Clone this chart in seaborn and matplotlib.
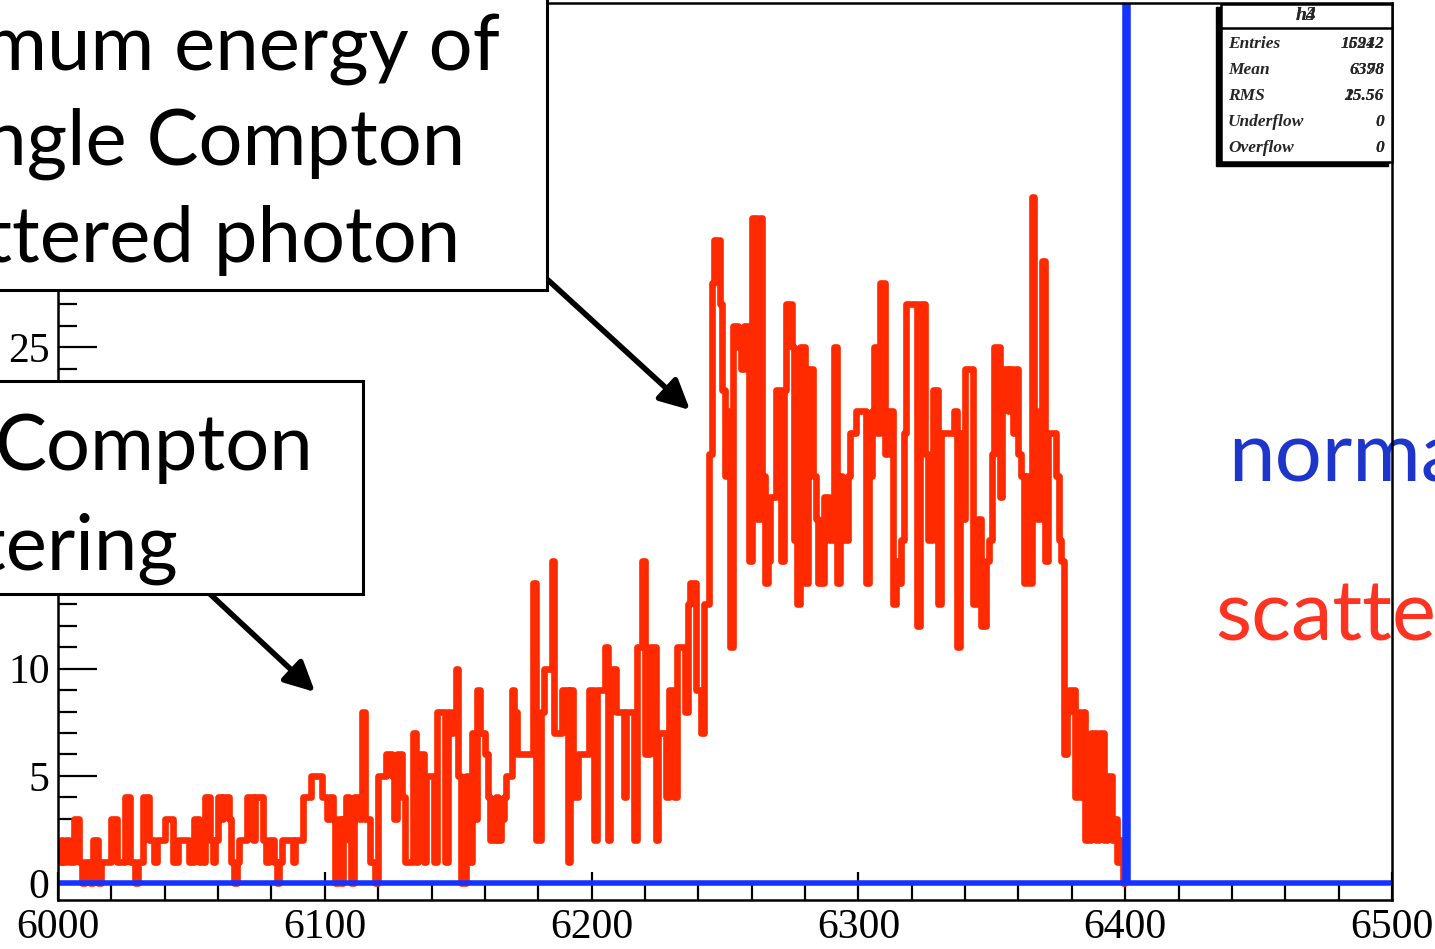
import numpy as np
import pandas as pd
import matplotlib
matplotlib.use("Agg")
import matplotlib.pyplot as plt
from matplotlib.patches import Rectangle
from matplotlib.ticker import MultipleLocator
import seaborn as sns

# counts per 1-unit bin, 6000..6400 (scattered photons, red)
scattered = [
    1, 2, 1, 2, 1, 1, 3, 3, 1, 0,
    1, 1, 0, 2, 2, 0, 1, 1, 1, 1,
    3, 3, 1, 1, 1, 4, 4, 1, 1, 0,
    1, 1, 4, 4, 2, 2, 1, 2, 2, 2,
    3, 3, 3, 1, 1, 2, 2, 2, 2, 1,
    1, 3, 3, 1, 1, 4, 4, 2, 1, 2,
    4, 3, 4, 4, 3, 1, 0, 1, 2, 2,
    2, 4, 4, 2, 4, 4, 4, 2, 1, 2,
    2, 1, 0, 1, 2, 2, 2, 2, 1, 2,
    2, 2, 4, 4, 4, 5, 5, 5, 5, 4,
    4, 3, 4, 3, 0, 3, 0, 3, 4, 2,
    0, 4, 4, 3, 8, 3, 3, 1, 1, 0,
    5, 5, 5, 6, 6, 5, 3, 6, 6, 4,
    1, 1, 1, 7, 1, 6, 6, 1, 5, 5,
    5, 1, 8, 8, 8, 1, 8, 7, 8, 10,
    5, 0, 0, 5, 1, 7, 3, 9, 7, 7,
    6, 4, 2, 2, 4, 2, 3, 4, 5, 5,
    9, 8, 6, 6, 6, 6, 6, 6, 14, 2,
    2, 8, 10, 10, 10, 15, 7, 7, 7, 9,
    9, 1, 9, 4, 4, 6, 6, 6, 6, 9,
    9, 2, 9, 9, 9, 11, 2, 10, 10, 8,
    8, 8, 4, 8, 8, 8, 2, 11, 11, 15,
    6, 6, 11, 11, 2, 7, 7, 7, 4, 9,
    9, 4, 11, 11, 11, 8, 13, 14, 14, 9,
    9, 7, 13, 13, 20, 28, 30, 30, 27, 23,
    19, 22, 11, 26, 26, 25, 24, 26, 26, 15,
    31, 31, 17, 31, 19, 14, 15, 18, 18, 23,
    23, 15, 23, 27, 27, 25, 16, 13, 25, 25,
    14, 24, 24, 19, 17, 14, 14, 18, 18, 16,
    16, 25, 14, 19, 16, 16, 19, 21, 21, 22,
    22, 22, 22, 14, 19, 22, 25, 21, 28, 28,
    20, 22, 22, 13, 15, 14, 16, 21, 27, 27,
    27, 27, 12, 27, 27, 20, 16, 16, 23, 23,
    13, 21, 21, 21, 21, 21, 22, 11, 21, 17,
    24, 24, 24, 13, 13, 17, 12, 12, 15, 16,
    20, 25, 25, 18, 24, 24, 22, 24, 21, 24,
    20, 19, 14, 19, 14, 32, 22, 17, 22, 29,
    15, 21, 21, 21, 19, 16, 15, 6, 8, 9,
    9, 4, 8, 4, 8, 2, 2, 7, 7, 2,
    7, 7, 2, 5, 5, 2, 3, 1, 2, 0,
]
scattered_start = 6000

# normal (unscattered) photons, blue: all in the 6400 bin, off scale
normal_start = 6000
normal_stop = 6500
normal_peak_energy = 6400
normal_peak_count = 15942

x_ticks = [6000, 6100, 6200, 6300, 6400, 6500]
y_ticks = [0, 5, 10, 15, 20, 25, 30, 35, 40]

stats_rows = ["Entries", "Mean", "RMS", "Underflow", "Overflow"]
stats_vals_a = ["15942", "6378", "15.56", "0", "0"]
stats_vals_b = ["16212", "6398", "25.56", "0", "0"]

RED = "#ff2a00"
BLUE = "#1433ff"

sns.set_theme(style="white")
plt.rcParams["font.family"] = ["Liberation Serif", "DejaVu Serif"]

W, H = 1435, 949
fig = plt.figure(figsize=(W / 100, H / 100), dpi=100)
ax = fig.add_axes([58 / W, 1 - 900 / H, (1392 - 58) / W, (900 - 3) / H])


def fx(x):
    return x / W


def fy(y):
    return 1 - y / H


sc_edges = list(range(scattered_start, scattered_start + len(scattered) + 1))
df_sc = pd.DataFrame({"energy": np.array(sc_edges[:-1]) + 0.5, "counts": scattered})

nm_edges = list(range(normal_start, normal_stop + 1))
nm_counts = np.zeros(len(nm_edges) - 1)
nm_counts[normal_peak_energy - normal_start] = normal_peak_count
df_nm = pd.DataFrame({"energy": np.array(nm_edges[:-1]) + 0.5, "counts": nm_counts})

sns.histplot(data=df_sc, x="energy", weights="counts", bins=sc_edges,
             element="step", fill=False, color=RED, linewidth=4.8, ax=ax)
sns.histplot(data=df_nm, x="energy", weights="counts", bins=nm_edges,
             element="step", fill=False, color=BLUE, linewidth=4.0, ax=ax)

ax.set_xlim(6000, 6500)
ax.set_ylim(-0.79, 41.05)
ax.set_xlabel("")
ax.set_ylabel("")
ax.set_xticks(x_ticks)
ax.set_yticks(y_ticks)
ax.xaxis.set_minor_locator(MultipleLocator(20))
ax.yaxis.set_minor_locator(MultipleLocator(1))
ax.tick_params(axis="both", which="both", direction="in", colors="black",
               width=1.6, labelsize=30, left=True, bottom=True)
ax.tick_params(axis="x", which="major", length=20, pad=6)
ax.tick_params(axis="x", which="minor", length=11)
ax.tick_params(axis="y", which="major", length=28, pad=6)
ax.tick_params(axis="y", which="minor", length=14)
for s in ax.spines.values():
    s.set_color("black")
    s.set_linewidth(1.8)

# stats box
fig.add_artist(Rectangle((fx(1216), fy(166)), (1388 - 1216) / W, (166 - 7) / H,
                         facecolor="black", edgecolor="black", zorder=5))
fig.add_artist(Rectangle((fx(1221), fy(162)), (1392 - 1221) / W, (162 - 4) / H,
                         facecolor="white", edgecolor="black", linewidth=1.8, zorder=6))
fig.add_artist(plt.Line2D([fx(1221), fx(1392)], [fy(28), fy(28)],
                          color="black", linewidth=1.8, zorder=7))
for t in ["h3", "h4"]:
    fig.text(fx(1306), fy(16), t, ha="center", va="center", fontsize=14,
             fontweight="bold", fontstyle="italic", zorder=8)
for i, row in enumerate(stats_rows):
    yy = fy(44 + 26 * i)
    fig.text(fx(1228), yy, row, ha="left", va="center", fontsize=12.5,
             fontweight="bold", fontstyle="italic", zorder=8)
    for v in (stats_vals_a[i], stats_vals_b[i]):
        fig.text(fx(1384), yy, v, ha="right", va="center", fontsize=12.5,
                 fontweight="bold", fontstyle="italic", zorder=8)

# annotation boxes
fig.add_artist(Rectangle((fx(-20), fy(290)), 567 / W, 310 / H,
                         facecolor="white", edgecolor="black", linewidth=2.2, zorder=5))
fig.add_artist(Rectangle((fx(-20), fy(594)), 383 / W, (594 - 381) / H,
                         facecolor="white", edgecolor="black", linewidth=2.2, zorder=5))

sans = ["Lato", "DejaVu Sans"]
box_lines = [
    ("Maximum energy of", 500, 70),
    ("single Compton", 465, 165),
    ("scattered photon", 460, 262),
    ("Compton", 313, 470),
    ("scattering", 178, 570),
]
for txt, xr, yb in box_lines:
    fig.text(fx(xr), fy(yb), txt, ha="right", va="baseline", fontsize=56,
             family=sans, color="black", zorder=6)

ax.annotate("", xy=(690, H - 410), xycoords="figure pixels",
            xytext=(548, H - 280), textcoords="figure pixels",
            arrowprops=dict(arrowstyle="-|>", lw=4, color="black",
                            mutation_scale=45, shrinkA=0, shrinkB=0),
            annotation_clip=False, zorder=7)
ax.annotate("", xy=(315, H - 692), xycoords="figure pixels",
            xytext=(210, H - 594), textcoords="figure pixels",
            arrowprops=dict(arrowstyle="-|>", lw=4, color="black",
                            mutation_scale=45, shrinkA=0, shrinkB=0),
            annotation_clip=False, zorder=7)

# right-side labels, under the frame line
ax.text(fx(1228), fy(480), "normal", transform=fig.transFigure, ha="left",
        va="baseline", fontsize=60, family=sans, color="#1e35cc",
        zorder=1, clip_on=False)
ax.text(fx(1215), fy(640), "scattered", transform=fig.transFigure, ha="left",
        va="baseline", fontsize=60, family=sans, color="#ff3322",
        zorder=1, clip_on=False)

fig.savefig("out.png", dpi=100)
